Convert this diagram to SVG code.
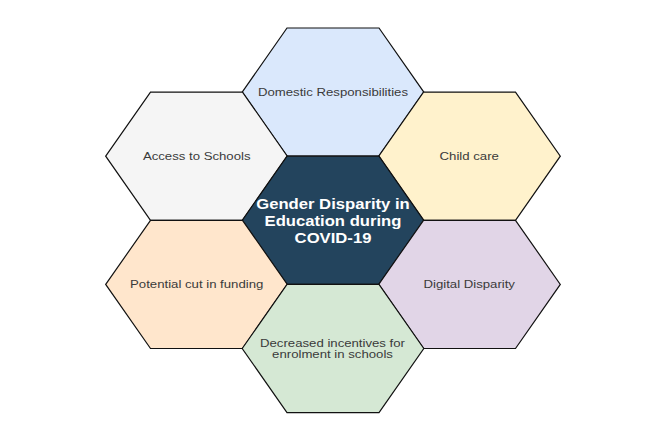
<svg xmlns="http://www.w3.org/2000/svg" xmlns:xlink="http://www.w3.org/1999/xlink" width="671" height="427" viewBox="0 0 671 427">
  <defs>
    <polygon id="hex" points="-90.8,0 -46,-64.1 46,-64.1 90.8,0 46,64.1 -46,64.1"/>
    <style>
      .hx { stroke: #111; stroke-width: 1.2; stroke-linejoin: miter; }
      .lbl { font-family: "Liberation Sans", Arial, Helvetica, sans-serif; font-size: 11px; fill: #3a3a3a; text-anchor: middle; }
      .ctr { font-family: "Liberation Sans", Arial, Helvetica, sans-serif; font-size: 14px; font-weight: bold; fill: #ffffff; text-anchor: middle; }
    </style>
  </defs>
  <rect width="671" height="427" fill="#ffffff"/>
  <g id="connectors"/>
  <g id="domestic">
    <use xlink:href="#hex" href="#hex" class="hx" fill="#dae8fc" transform="translate(333,92.1)"/>
    <text class="lbl" transform="translate(333,95.7) scale(1.2,1)">Domestic Responsibilities</text>
  </g>
  <g id="access">
    <use xlink:href="#hex" href="#hex" class="hx" fill="#f5f5f5" transform="translate(196.5,156.2)"/>
    <text class="lbl" transform="translate(196.7,159.5) scale(1.2,1)">Access to Schools</text>
  </g>
  <g id="childcare">
    <use xlink:href="#hex" href="#hex" class="hx" fill="#fff2cc" transform="translate(469.5,156.2)"/>
    <text class="lbl" transform="translate(469.2,159.5) scale(1.2,1)">Child care</text>
  </g>
  <g id="center">
    <use xlink:href="#hex" href="#hex" class="hx" fill="#23445d" transform="translate(333,220.3)"/>
    <text class="ctr" transform="translate(333,0) scale(1.19,1)"><tspan x="0" y="209.3">Gender Disparity in</tspan><tspan x="0" y="226.3">Education during</tspan><tspan x="0" y="243">COVID-19</tspan></text>
  </g>
  <g id="funding">
    <use xlink:href="#hex" href="#hex" class="hx" fill="#ffe6cc" transform="translate(196.5,284.4)"/>
    <text class="lbl" transform="translate(196.7,288) scale(1.2,1)">Potential cut in funding</text>
  </g>
  <g id="digital">
    <use xlink:href="#hex" href="#hex" class="hx" fill="#e1d5e7" transform="translate(469.5,284.4)"/>
    <text class="lbl" transform="translate(469.2,288.3) scale(1.2,1)">Digital Disparity</text>
  </g>
  <g id="incentives">
    <use xlink:href="#hex" href="#hex" class="hx" fill="#d5e8d4" transform="translate(333,348.5)"/>
    <text class="lbl" transform="translate(332.5,0) scale(1.2,1)"><tspan x="0" y="346.6">Decreased incentives for</tspan><tspan x="0" y="358">enrolment in schools</tspan></text>
  </g>
</svg>
